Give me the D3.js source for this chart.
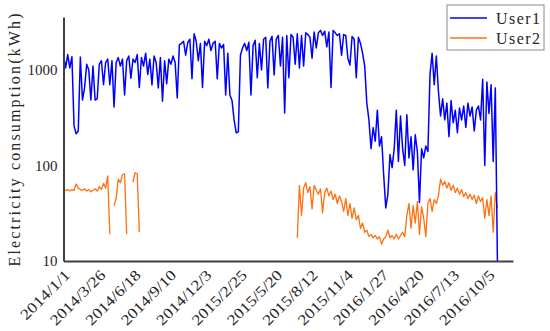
<!DOCTYPE html>
<html><head><meta charset="utf-8">
<script src="https://cdn.jsdelivr.net/npm/d3@7"></script>
<style>body{margin:0;background:#fff}svg{display:block}</style>
</head><body>
<svg id="c" width="550" height="331"></svg>
<script>
const startDate = "2014-01-01";
const stepDays = 5;
const axisEndDays = 1067;
const seriesNames = ["User1", "User2"];
const seriesColors = ["#0000FF", "#FF7010"];
const yTickValues = [10, 100, 1000];
const tickLabels = ["2014/1/1","2014/3/26","2014/6/18","2014/9/10","2014/12/3","2015/2/25","2015/5/20","2015/8/12","2015/11/4","2016/1/27","2016/4/20","2016/7/13","2016/10/5"];

const user1 = [
1430,1050,1450,1050,1380,260,215,230,1370,485,
650,1150,1000,485,1100,485,500,1150,1250,700,
1200,1300,700,1250,410,1200,1350,1100,1300,547,
1250,1400,820,1300,1200,1450,655,1350,1100,1500,
900,1300,697,1400,1200,650,1350,470,1250,720,
1300,1150,1400,1200,510,1830,1900,2000,1430,1950,
2100,810,2400,2000,1250,1900,655,2000,1800,2100,
1600,1900,2000,810,1900,1700,1850,547,1500,547,
480,300,220,225,1430,1700,1900,1600,1950,547,
1800,2050,830,1900,1000,2100,2200,650,2000,2250,
890,2100,2300,1100,2200,355,2300,830,2350,2200,
1150,2400,1050,2300,1100,2450,2350,2200,1330,2500,
1700,2450,2600,2300,2550,1750,2500,655,2600,2450,
2300,2400,1430,2350,2300,1330,1130,2250,2100,830,
2200,1900,1500,1100,450,300,150,250,180,380,
160,200,80,36,50,130,95,150,380,110,
330,150,100,340,120,200,90,210,140,41,
150,120,160,140,900,1500,700,1400,600,330,
500,300,450,200,480,280,380,220,400,300,
420,250,450,330,410,230,380,420,300,800,
100,750,350,700,110,650,10
];

const user2 = [
57,55,56,54,56,55,64,58,56,55,
57,54,56,53,55,57,54,60,56,65,
58,78,19,null,38,45,72,66,80,82,
19,null,null,67,84,82,20,null,null,null,
null,null,null,null,null,null,null,null,null,null,
null,null,null,null,null,null,null,null,null,null,
null,null,null,null,null,null,null,null,null,null,
null,null,null,null,null,null,null,null,null,null,
null,null,null,null,null,null,null,null,null,null,
null,null,null,null,null,null,null,null,null,null,
null,null,null,null,null,null,null,null,null,null,
null,17.5,62,30,58,66,52,60,35,62,
55,50,57,32,52,58,48,54,44,50,
40,48,42,33,45,30,40,28,36,27,
30,22,25,20,21,18,19,17.5,18.5,17,
18,15,17,18,21,17.5,18.5,17,19,17,
18.5,20,18,30,40,22,38,25,42,19,
37,28,18,40,45,33,44,40,48,72,
62,68,58,66,55,62,52,58,50,56,
47,52,45,50,44,49,40,48,42,46,
28,44,30,48,20,52,36
];

const svg = d3.select("#c");
const font = "Liberation Serif, DejaVu Serif, serif";
const textColor = "#262626";
const axisColor = "#404040";

const t0 = d3.utcParse("%Y-%m-%d")(startDate);
const dates = user1.map((_, i) => d3.utcDay.offset(t0, i * stepDays));
const x = d3.scaleUtc().domain([t0, d3.utcDay.offset(t0, axisEndDays)]).range([63.5, 513]);
const y = d3.scaleLog().domain([10, 3590]).range([261, 17]);

const line = d3.line()
  .defined(d => d[1] != null)
  .x(d => x(d[0]))
  .y(d => y(d[1]));

[[user2, 1, 1.3], [user1, 0, 1.5]].forEach(([vals, idx, w]) => {
  svg.append("path")
    .datum(vals.map((v, i) => [dates[i], v]))
    .attr("fill", "none")
    .attr("stroke", seriesColors[idx])
    .attr("stroke-width", w)
    .attr("stroke-linejoin", "round")
    .attr("d", line);
});

// x axis
const parseTick = d3.utcParse("%Y/%m/%d");
const tickDates = tickLabels.map(parseTick);
const gx = svg.append("g").attr("transform", "translate(0,261)")
  .call(d3.axisBottom(x).tickValues(tickDates).tickSize(0).tickSizeOuter(0)
    .tickFormat((d, i) => tickLabels[i]));
gx.select(".domain").attr("stroke", axisColor).attr("stroke-width", 2);
gx.selectAll("text")
  .attr("x", 0).attr("y", 0).attr("dy", 0)
  .attr("transform", "translate(7,15) rotate(-45)")
  .attr("text-anchor", "end")
  .attr("fill", textColor)
  .style("font-family", font).style("font-size", "15px")
  .attr("textLength", function(){ return this.textContent.length * 7.9; })
  .attr("lengthAdjust", "spacingAndGlyphs");

// y axis
const gy = svg.append("g").attr("transform", "translate(63.5,0)")
  .call(d3.axisLeft(y).tickValues(yTickValues).tickSize(0).tickSizeOuter(0)
    .tickPadding(6).tickFormat(d3.format("d")));
gy.select(".domain").attr("stroke", axisColor).attr("stroke-width", 2);
gy.selectAll("text")
  .attr("fill", textColor)
  .style("font-family", font).style("font-size", "15px");

// y label
svg.append("text")
  .attr("transform", "translate(20,140) rotate(-90)")
  .attr("text-anchor", "middle")
  .attr("fill", textColor)
  .style("font-family", font).style("font-size", "16px")
  .attr("textLength", 253).attr("lengthAdjust", "spacing")
  .text("Electricity consumption(kWh)");

// legend
const lg = svg.append("g");
lg.append("rect").attr("x", 447).attr("y", 5).attr("width", 97).attr("height", 45)
  .attr("fill", "#fff").attr("stroke", "#8a8a8a").attr("stroke-width", 1);
seriesNames.forEach((name, i) => {
  const yy = 18 + i * 20;
  lg.append("line").attr("x1", 450).attr("x2", 487).attr("y1", yy).attr("y2", yy)
    .attr("stroke", seriesColors[i]).attr("stroke-width", 1.5);
  lg.append("text").attr("x", 496).attr("y", yy + 6)
    .attr("fill", textColor)
    .style("font-family", font).style("font-size", "16px")
    .attr("textLength", 44).attr("lengthAdjust", "spacing")
    .text(name);
});
</script>
</body></html>
